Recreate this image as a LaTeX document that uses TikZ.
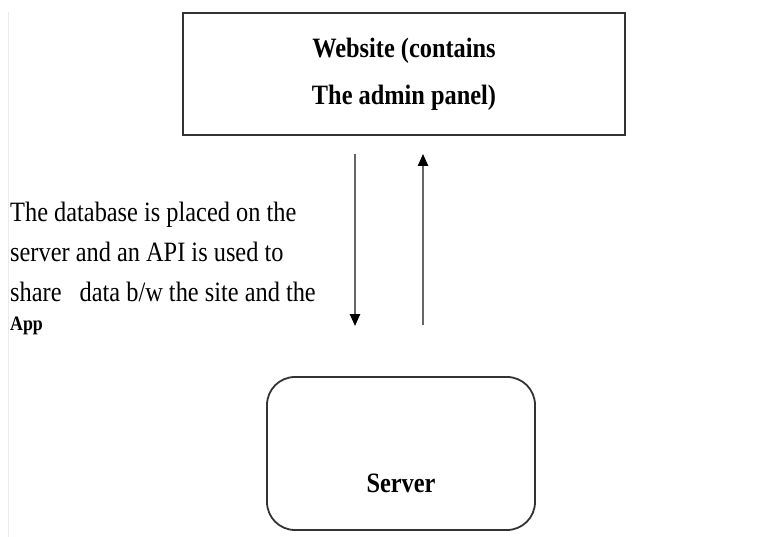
\documentclass[tikz,border=0pt]{standalone}
\usepackage{fontspec}
\setmainfont{Liberation Serif}[FakeStretch=0.87]
\usetikzlibrary{arrows.meta}

\begin{document}
\begin{tikzpicture}[x=1pt, y=1pt,
	box/.style={draw=black!80, line width=1.8pt, inner sep=0pt},
	flow/.style={draw=black!60, line width=2.2pt, -{Triangle[length=12pt,width=10pt,color=black]}},
	]
	%%%%% START %%%%%
	
	\useasboundingbox (0, 0) rectangle (774, 537);
	\draw[line width=1pt, color=black!8] (8, 0) -- (8, 525);
	
	\node[box, minimum width=442pt, minimum height=122pt, align=center,
		font=\bfseries\fontsize{28}{47}\selectfont] (website) at (404, 463) {Website (contains\\The admin panel)};
	
	\node[box, rounded corners=28pt, minimum width=268pt, minimum height=153pt] (server) at (401, 83.5) {};
	\node[anchor=base, font=\bfseries\fontsize{28}{30}\selectfont] (servertext) at ([yshift=38pt]server.south) {Server};
	
	\node[anchor=north west, inner sep=0pt, align=left, font=\fontsize{28}{40}\selectfont] (note) at (10, 335)
		{The database is placed on the\\server and an API is used to\\share\hspace{12pt} data b/w the site and the\\[-11pt]{\bfseries\fontsize{20.5}{29}\selectfont App}};
	
	\draw[flow, shorten <=18pt, shorten >=50pt] ([xshift=-49pt]website.south) -- ([xshift=-46pt]server.north);
	\draw[flow, shorten <=51pt, shorten >=18pt] ([xshift=22pt]server.north) -- ([xshift=19pt]website.south);
	
	%%%%% END %%%%%
\end{tikzpicture}
\end{document}
